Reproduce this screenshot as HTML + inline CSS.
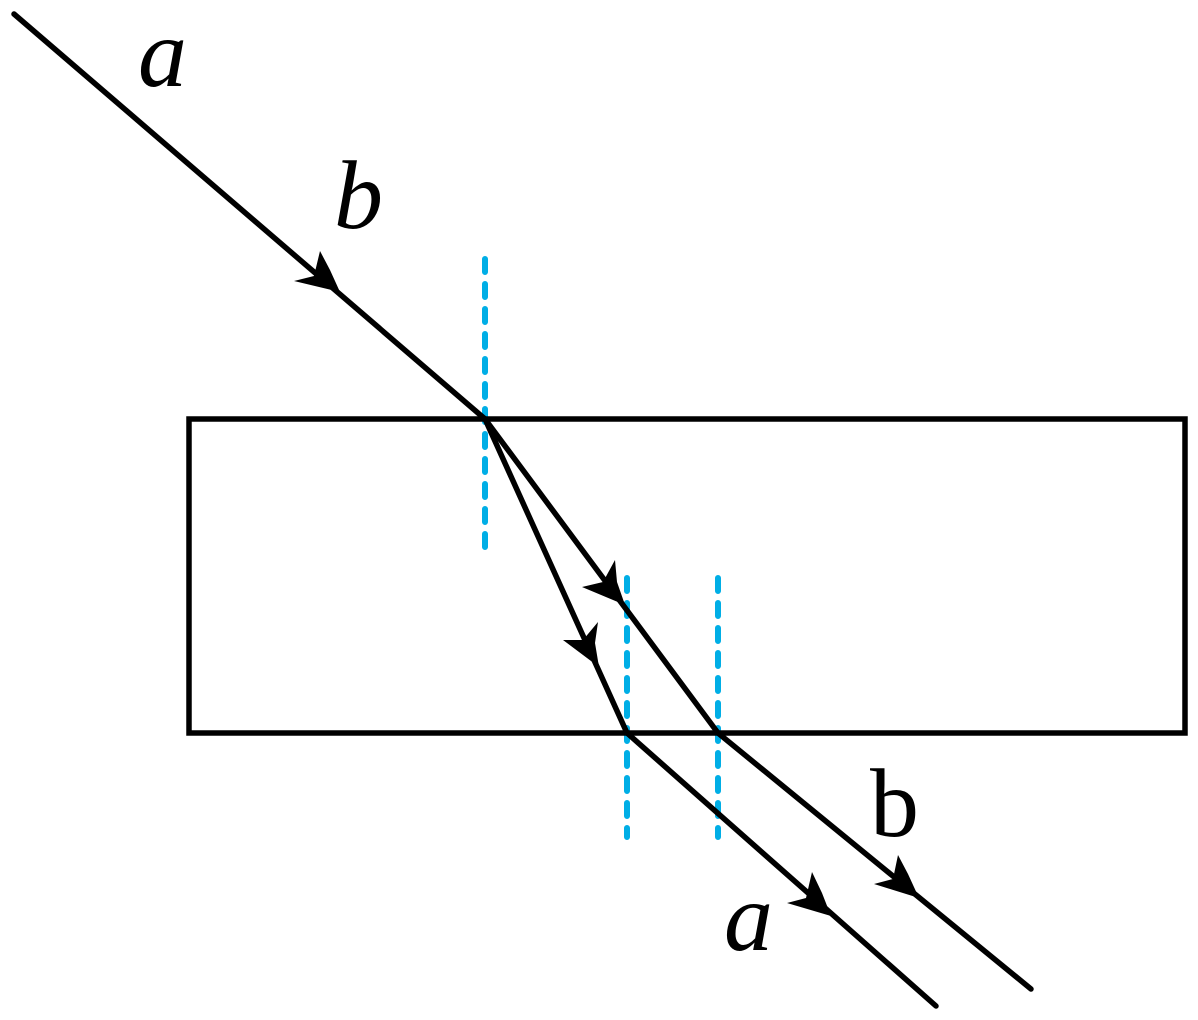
<!DOCTYPE html>
<html><head><meta charset="utf-8"><style>
html,body{margin:0;padding:0;background:#fff;}
svg{display:block;}
</style></head><body>
<svg width="1198" height="1020" viewBox="0 0 1198 1020" xmlns="http://www.w3.org/2000/svg">
<g stroke="#00aee6" stroke-width="6" stroke-dasharray="13,12" stroke-linecap="round" fill="none">
<line x1="485" y1="259" x2="485" y2="557"/>
<line x1="627" y1="578" x2="627" y2="837"/>
<line x1="718" y1="578" x2="718" y2="837"/>
</g>
<g stroke="#000" stroke-width="5.5" fill="none" stroke-linecap="round">
<rect x="189" y="419" width="996" height="314"/>
<line x1="14" y1="14" x2="485" y2="419"/>
<line x1="485" y1="419" x2="627" y2="733"/>
<line x1="485" y1="419" x2="718" y2="733"/>
<line x1="627" y1="733" x2="936" y2="1006"/>
<line x1="718" y1="733" x2="1031" y2="989"/>
</g>
<g fill="#000">
<polygon points="340,292 294,281 314,276 320,251 330,270"/>
<polygon points="625,605 582,587 603,582 615,560 617,582"/>
<polygon points="599,667 563,640 583,640 598,622 595,643"/>
<polygon points="831,916 787,903 806,898 812,872 822,893"/>
<polygon points="919,898 874,884 893,879 898,855 908,874"/>
</g>
<g font-family="Liberation Serif, serif" font-size="98" fill="#000">
<text x="138" y="86" font-style="italic">a</text>
<text x="334" y="228" font-style="italic">b</text>
<text x="870" y="836">b</text>
<text x="724" y="950" font-style="italic">a</text>
</g>
</svg>
</body></html>
